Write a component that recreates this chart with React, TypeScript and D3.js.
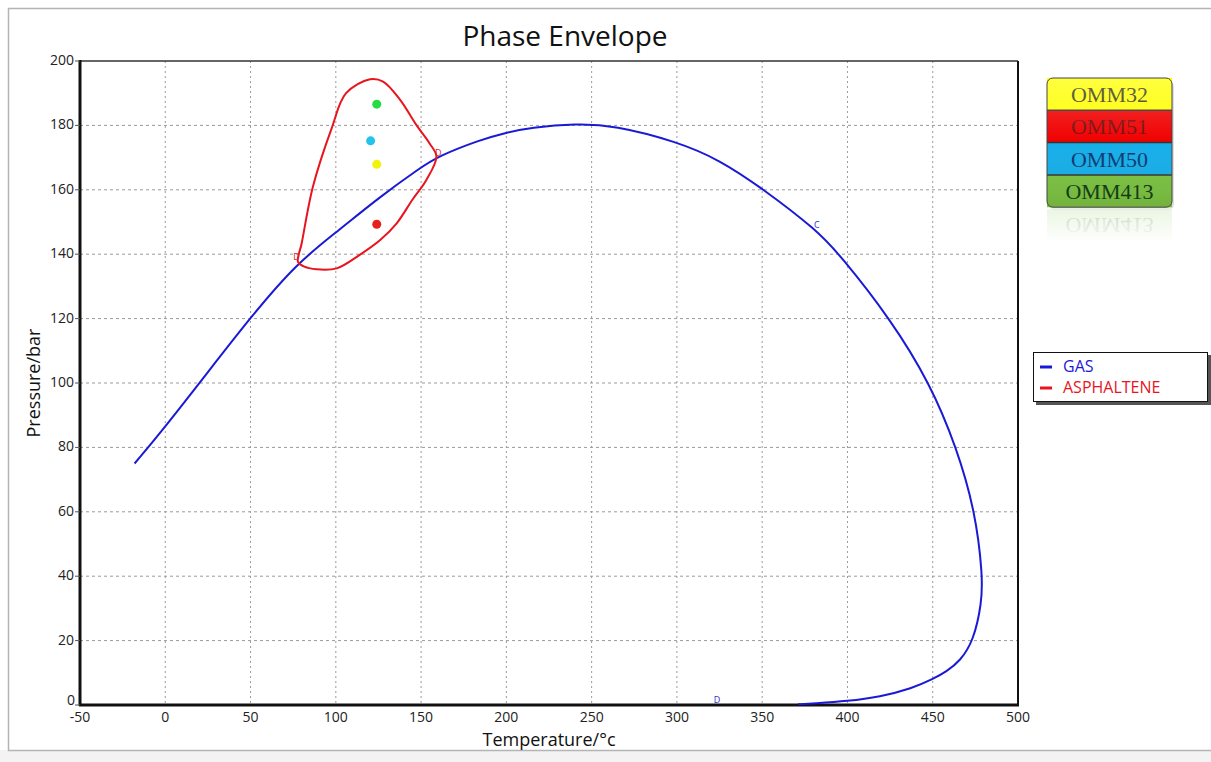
import React from "react";
import * as d3 from "d3";

// Gas phase envelope: [temperature °C, pressure bar]
const gasTemp = [-18, 0, 25, 50, 77, 102, 125, 150, 160, 184.5, 200, 214, 241, 263, 300, 325, 350, 382, 396, 425, 448.3, 464, 475, 479.3, 478.7, 474, 466, 458, 450, 438, 419, 400, 380, 371];
const gasPres = [75, 86.4, 103.4, 120.4, 137.2, 147.5, 157.5, 167, 170.4, 175.5, 177.8, 179.3, 180.6, 180, 175, 169.3, 160.5, 147.5, 139.5, 120, 100, 80, 60, 40, 31.7, 20, 13.6, 10.4, 8, 5.2, 2.5, 1.2, 0.5, 0.2];

// Asphaltene onset envelope (closed loop)
const asphTemp = [77.8, 80, 86.6, 97.5, 106, 120, 127.7, 137.6, 147.4, 155, 159, 153, 145, 135.7, 126, 114, 100.5, 88.8, 80.9];
const asphPres = [137.6, 143.4, 161, 179, 190, 194.3, 193.6, 188, 180, 174.4, 170.3, 163, 157, 149.6, 144.4, 139.8, 135.6, 135.3, 136.3];

// Reservoir samples
const sampleNames = ["OMM32", "OMM51", "OMM50", "OMM413"];
const sampleTemp = [124, 124, 120.4, 124];
const samplePres = [167.9, 149.3, 175.2, 186.6];
const sampleDot = ["#f2f20a", "#e8201c", "#22c4ee", "#25dc45"];
const sampleBand = ["#ffff00", "#f00000", "#17aee8", "#7cc242"];
const sampleText = ["#3d3a12", "#7a0c0c", "#0d3b70", "#123d12"];

// Point labels on the envelopes
const pointLabels = ["D", "D", "C", "D"];
const pointTemp = [77, 160, 382, 323.5];
const pointPres = [139, 171.5, 149, 1.5];
const pointColor = ["#e02020", "#e02020", "#3030d0", "#3030d0"];

const xTicks = [-50, 0, 50, 100, 150, 200, 250, 300, 350, 400, 450, 500];
const yTicks = [0, 20, 40, 60, 80, 100, 120, 140, 160, 180, 200];

const seriesNames = ["GAS", "ASPHALTENE"];
const seriesColors = ["#1a1ad6", "#e8141e"];

export default function App() {
  const x = d3.scaleLinear().domain([-50, 500]).range([80, 1018]);
  const y = d3.scaleLinear().domain([0, 200]).range([705, 61]);

  const gasPts: [number, number][] = gasTemp.map((t, i) => [t, gasPres[i]]);
  const asphPts: [number, number][] = asphTemp.map((t, i) => [t, asphPres[i]]);

  const gasLine = d3
    .line<[number, number]>()
    .x((d) => x(d[0]))
    .y((d) => y(d[1]))
    .curve(d3.curveBasis);
  const asphLine = d3
    .line<[number, number]>()
    .x((d) => x(d[0]))
    .y((d) => y(d[1]))
    .curve(d3.curveCatmullRomClosed.alpha(0.5));

  const sans = "'Open Sans', 'DejaVu Sans', sans-serif";
  const serif = "'Liberation Serif', 'DejaVu Serif', serif";

  const lgX = 1047;
  const lgY = 78;
  const lgW = 125;
  const bandH = 32.3;

  return (
    <svg
      width={1211}
      height={762}
      style={{ position: "absolute", left: 0, top: 0, background: "#fff" }}
      fontFamily={sans}
    >
      <defs>
        <linearGradient id="gloss" x1="0" y1="0" x2="0" y2="1">
          <stop offset="0" stopColor="#fff" stopOpacity="0.25" />
          <stop offset="0.5" stopColor="#fff" stopOpacity="0" />
          <stop offset="1" stopColor="#000" stopOpacity="0.08" />
        </linearGradient>
        <linearGradient id="fade" x1="0" y1="0" x2="0" y2="1">
          <stop offset="0" stopColor="#fff" stopOpacity="0.55" />
          <stop offset="1" stopColor="#fff" stopOpacity="1" />
        </linearGradient>
        <clipPath id="plotClip">
          <rect x={80} y={61} width={938} height={644} />
        </clipPath>
      </defs>

      {/* outer frame */}
      <rect x={0} y={750} width={1211} height={12} fill="#f3f3f3" />
      <rect x={8.5} y={8.5} width={1210} height={742} fill="none" stroke="#b4b4b4" strokeWidth={1.5} />

      {/* title */}
      <text x={565} y={46} textAnchor="middle" fontSize={28} fill="#111">
        Phase Envelope
      </text>

      {/* grid */}
      {xTicks.slice(1, -1).map((t) => (
        <line key={"gx" + t} x1={x(t)} x2={x(t)} y1={61} y2={705} stroke="#9a9a9a" strokeWidth={1} strokeDasharray="2,3" />
      ))}
      {yTicks.slice(1, -1).map((t) => (
        <line key={"gy" + t} x1={80} x2={1018} y1={y(t)} y2={y(t)} stroke="#9a9a9a" strokeWidth={1} strokeDasharray="3,3" />
      ))}

      {/* plot frame */}
      <line x1={80} x2={1018} y1={61} y2={61} stroke="#333" strokeWidth={1.5} />
      <line x1={1018} x2={1018} y1={61} y2={705} stroke="#111" strokeWidth={2} />
      <line x1={80} x2={80} y1={60} y2={706} stroke="#111" strokeWidth={3} />
      <line x1={79} x2={1019} y1={705} y2={705} stroke="#111" strokeWidth={3} />

      {/* y ticks */}
      {yTicks.map((t) => (
        <g key={"yt" + t}>
          <line x1={75} x2={80} y1={y(t)} y2={y(t)} stroke="#555" strokeWidth={1} />
          <text x={t === 0 ? 75 : 74} y={y(t) + (t === 0 ? 0 : 4)} textAnchor="end" fontSize={14} fill="#222">
            {t}
          </text>
        </g>
      ))}
      {/* x ticks */}
      {xTicks.map((t) => (
        <text key={"xt" + t} x={x(t)} y={722} textAnchor="middle" fontSize={14} fill="#222">
          {t}
        </text>
      ))}

      {/* axis titles */}
      <text x={549} y={746} textAnchor="middle" fontSize={18} fill="#111">
        Temperature/°c
      </text>
      <text transform="translate(40,383) rotate(-90)" textAnchor="middle" fontSize={18} fill="#111">
        Pressure/bar
      </text>

      {/* envelopes */}
      <g clipPath="url(#plotClip)">
        <path d={gasLine(gasPts) || ""} fill="none" stroke={seriesColors[0]} strokeWidth={2} />
        <path d={asphLine(asphPts) || ""} fill="none" stroke={seriesColors[1]} strokeWidth={2} />
      </g>

      {/* point labels */}
      {pointLabels.map((l, i) => (
        <text
          key={"pl" + i}
          x={x(pointTemp[i])}
          y={y(pointPres[i]) + 3}
          textAnchor="middle"
          fontSize={9}
          fill={pointColor[i]}
        >
          {l}
        </text>
      ))}

      {/* samples */}
      {sampleNames.map((n, i) => (
        <circle key={n} cx={x(sampleTemp[i])} cy={y(samplePres[i])} r={4.5} fill={sampleDot[i]} />
      ))}

      {/* sample legend */}
      <g>
        <rect x={lgX + 2} y={lgY + 3} width={lgW} height={bandH * 4} rx={6} fill="#000" opacity={0.12} />
        {sampleNames.map((n, i) => (
          <g key={"lg" + n}>
            <rect
              x={lgX}
              y={lgY + i * bandH}
              width={lgW}
              height={bandH}
              fill={sampleBand[i]}
            />
            <text
              x={lgX + lgW / 2}
              y={lgY + i * bandH + 24}
              textAnchor="middle"
              fontSize={22}
              fontFamily={serif}
              fill={sampleText[i]}
            >
              {n}
            </text>
          </g>
        ))}
        {[1, 2, 3].map((k) => (
          <line key={"sep" + k} x1={lgX} x2={lgX + lgW} y1={lgY + k * bandH} y2={lgY + k * bandH} stroke="#333" strokeWidth={1.5} />
        ))}
        <rect x={lgX} y={lgY} width={lgW} height={bandH * 4} rx={6} fill="url(#gloss)" stroke="#444" strokeWidth={1} />
        {/* reflection */}
        <g transform={`translate(0,${2 * (lgY + bandH * 4) + 2}) scale(1,-1)`}>
          <rect x={lgX} y={lgY + 3 * bandH} width={lgW} height={bandH} fill={sampleBand[3]} opacity={0.35} />
          <text
            x={lgX + lgW / 2}
            y={lgY + 3 * bandH + 24}
            textAnchor="middle"
            fontSize={22}
            fontFamily={serif}
            fill={sampleText[3]}
            opacity={0.45}
          >
            {sampleNames[3]}
          </text>
        </g>
        <rect x={lgX - 2} y={lgY + bandH * 4 + 1} width={lgW + 4} height={bandH + 2} fill="url(#fade)" />
      </g>

      {/* series legend */}
      <g>
        <rect x={1036} y={355} width={175} height={50} fill="#555" />
        <rect x={1033.5} y={352.5} width={174} height={49} fill="#fff" stroke="#111" strokeWidth={1} />
        {seriesNames.map((n, i) => (
          <g key={"sl" + n}>
            <line x1={1040} x2={1052} y1={367 + i * 21} y2={367 + i * 21} stroke={seriesColors[i]} strokeWidth={3} />
            <text x={1063} y={372 + i * 21} fontSize={16} fill={seriesColors[i]}>
              {n}
            </text>
          </g>
        ))}
      </g>
    </svg>
  );
}
